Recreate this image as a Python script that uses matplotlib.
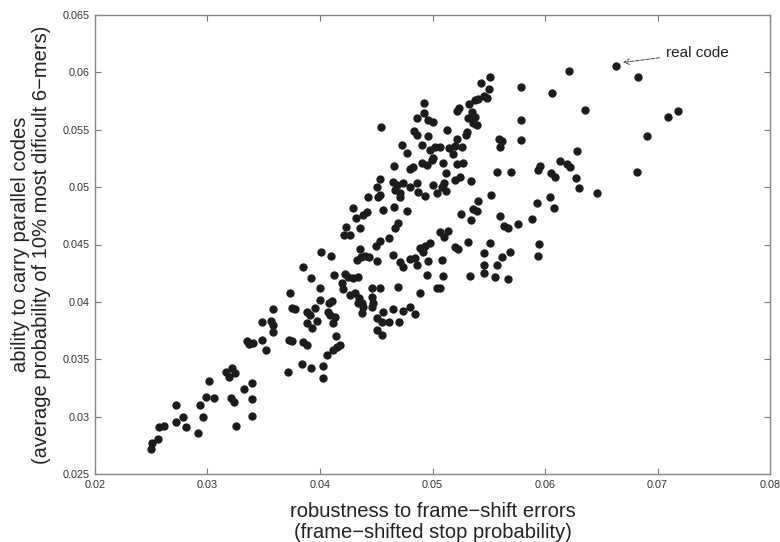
import matplotlib
matplotlib.use("Agg")
import matplotlib.pyplot as plt

# values
stop_prob = [
    0.06214, 0.06632, 0.06827, 0.06356, 0.07094, 0.07183, 0.06907, 0.06285, 0.06134, 0.06196,
    0.06223, 0.06276, 0.06303, 0.06463, 0.06818, 0.06063,
    0.05183, 0.05094, 0.05218, 0.05272, 0.05120, 0.05200, 0.05245, 0.05343, 0.05103, 0.05120,
    0.05085, 0.05574, 0.05698, 0.05520, 0.05405, 0.05360, 0.05396, 0.05254, 0.05343, 0.05600,
    0.05636, 0.05672, 0.05760, 0.05885, 0.05929, 0.06045, 0.06081, 0.05956, 0.05938, 0.06054,
    0.06089, 0.05067, 0.05138, 0.05103, 0.05316, 0.05200, 0.05227, 0.05512, 0.05458, 0.05618,
    0.05689, 0.05574, 0.05458, 0.05458, 0.05947, 0.05938, 0.05085, 0.05334, 0.05556, 0.05672,
    0.05094, 0.05067,
    0.05512, 0.05432, 0.05503, 0.05458, 0.05405, 0.05485, 0.05378, 0.05325, 0.05236, 0.05218,
    0.05352, 0.05316, 0.05378, 0.05360, 0.05396, 0.05307, 0.05298, 0.05129, 0.04925, 0.04925,
    0.04863, 0.04960, 0.05005, 0.04543, 0.04836, 0.04863, 0.04960, 0.04729, 0.04774, 0.04907,
    0.04978, 0.05023, 0.05067, 0.05147, 0.05218, 0.05200, 0.05263, 0.05005, 0.04996, 0.04658,
    0.04800, 0.04907, 0.04951, 0.05592, 0.05618, 0.05600, 0.05787, 0.05787, 0.05787,
    0.04827, 0.04534, 0.04507, 0.04649, 0.04685, 0.04738, 0.04667, 0.04711, 0.04711, 0.04800,
    0.04863, 0.04871, 0.04934, 0.05005, 0.05040, 0.04427, 0.04516, 0.04534, 0.04294, 0.04418,
    0.04383, 0.04320, 0.04560, 0.04658, 0.04774, 0.04694, 0.04667, 0.04231, 0.04356, 0.04214,
    0.04267, 0.04614, 0.04534, 0.04498, 0.04356, 0.04009, 0.04098, 0.04329, 0.04365, 0.04400,
    0.04436, 0.04507, 0.04649, 0.04711, 0.04738, 0.04800, 0.04845, 0.04863, 0.04960, 0.04889,
    0.04934, 0.04978, 0.04916, 0.04951, 0.03849, 0.03920, 0.04125, 0.04223, 0.04249, 0.04294,
    0.04338, 0.04196, 0.04000, 0.04463, 0.04534, 0.04694,
    0.04205, 0.04267, 0.04311, 0.04347, 0.04374, 0.04338, 0.04383, 0.04463, 0.04471, 0.04463,
    0.04374, 0.04889, 0.05040, 0.04000, 0.04107, 0.04080, 0.03956, 0.03885, 0.03911, 0.03974,
    0.04071, 0.04089, 0.04134, 0.04116, 0.03885, 0.03929, 0.04560, 0.04649, 0.04738, 0.04800,
    0.04845, 0.04507, 0.04551, 0.04614, 0.04703, 0.04507, 0.04551, 0.04142, 0.03849, 0.03885,
    0.04178, 0.04151, 0.04116, 0.04062, 0.03840, 0.03920, 0.04027, 0.04027,
    0.03734, 0.03582, 0.03751, 0.03778, 0.03485, 0.03565, 0.03582, 0.03582, 0.03351, 0.03369,
    0.03405, 0.03485, 0.03520, 0.03725, 0.03751, 0.03716, 0.03165, 0.03218, 0.03245, 0.03191,
    0.03013, 0.03325, 0.03396, 0.02987, 0.03058, 0.03209, 0.03236, 0.03396, 0.02720, 0.02933,
    0.02782, 0.02960, 0.03396, 0.02720, 0.02809, 0.02569, 0.02613, 0.02916, 0.03253, 0.02560,
    0.02507, 0.02498,
]
parallel_prob = [
    0.06012, 0.06056, 0.05960, 0.05672, 0.05611, 0.05663, 0.05445, 0.05315, 0.05228, 0.05201,
    0.05175, 0.05079, 0.04992, 0.04949, 0.05132, 0.05820,
    0.05289, 0.05210, 0.05201, 0.05210, 0.05123, 0.05062, 0.05088, 0.05053, 0.05036, 0.04966,
    0.05001, 0.05132, 0.05132, 0.04931, 0.04879, 0.04809, 0.04792, 0.04766, 0.04713, 0.04748,
    0.04661, 0.04644, 0.04679, 0.04722, 0.04862, 0.04914, 0.04818, 0.05184, 0.05149, 0.05123,
    0.05088, 0.04609, 0.04618, 0.04565, 0.04522, 0.04478, 0.04461, 0.04513, 0.04426, 0.04391,
    0.04435, 0.04321, 0.04321, 0.04252, 0.04504, 0.04400, 0.04365, 0.04225, 0.04217, 0.04199,
    0.04225, 0.04121,
    0.05960, 0.05907, 0.05855, 0.05794, 0.05768, 0.05777, 0.05759, 0.05724, 0.05690, 0.05663,
    0.05655, 0.05602, 0.05611, 0.05559, 0.05541, 0.05480, 0.05454, 0.05498, 0.05733, 0.05646,
    0.05602, 0.05585, 0.05567, 0.05524, 0.05489, 0.05454, 0.05445, 0.05367, 0.05297, 0.05367,
    0.05323, 0.05350, 0.05350, 0.05341, 0.05419, 0.05358, 0.05350, 0.05254, 0.05236, 0.05184,
    0.05158, 0.05210, 0.05193, 0.05419, 0.05402, 0.05350, 0.05873, 0.05585, 0.05411,
    0.05175, 0.05071, 0.05001, 0.05045, 0.05018, 0.05036, 0.04975, 0.04949, 0.04914, 0.05001,
    0.05036, 0.04957, 0.04923, 0.05018, 0.04949, 0.04914, 0.04914, 0.04931, 0.04818, 0.04783,
    0.04757, 0.04731, 0.04801, 0.04827, 0.04792, 0.04687, 0.04644, 0.04652, 0.04644, 0.04583,
    0.04583, 0.04557, 0.04530, 0.04487, 0.04461, 0.04435, 0.04400, 0.04365, 0.04391, 0.04400,
    0.04391, 0.04356, 0.04408, 0.04347, 0.04304, 0.04374, 0.04382, 0.04321, 0.04356, 0.04469,
    0.04487, 0.04513, 0.04435, 0.04234, 0.04304, 0.04208, 0.04234, 0.04243, 0.04217, 0.04208,
    0.04217, 0.04164, 0.04121, 0.04121, 0.04121, 0.04130,
    0.04112, 0.04060, 0.04077, 0.04034, 0.03990, 0.03990, 0.03955, 0.04042, 0.03990, 0.03955,
    0.03903, 0.04077, 0.04121, 0.04016, 0.04008, 0.03990, 0.03947, 0.03912, 0.03885, 0.03833,
    0.03912, 0.03885, 0.03868, 0.03816, 0.03816, 0.03772, 0.03912, 0.03938, 0.03920, 0.03955,
    0.03894, 0.03859, 0.03824, 0.03824, 0.03824, 0.03755, 0.03711, 0.03702, 0.03650, 0.03624,
    0.03624, 0.03607, 0.03580, 0.03537, 0.03458, 0.03424, 0.03441, 0.03336,
    0.04077, 0.03938, 0.03947, 0.03938, 0.03824, 0.03833, 0.03798, 0.03737, 0.03659, 0.03633,
    0.03641, 0.03668, 0.03580, 0.03668, 0.03659, 0.03389, 0.03389, 0.03424, 0.03380, 0.03345,
    0.03310, 0.03241, 0.03293, 0.03171, 0.03162, 0.03162, 0.03127, 0.03153, 0.03101, 0.03101,
    0.02997, 0.02997, 0.03005, 0.02953, 0.02909, 0.02909, 0.02918, 0.02857, 0.02918, 0.02805,
    0.02770, 0.02718,
]
real_code = (0.06632, 0.06056)

x_ticks = [0.02, 0.03, 0.04, 0.05, 0.06, 0.07, 0.08]
y_ticks = [0.025, 0.03, 0.035, 0.04, 0.045, 0.05, 0.055, 0.06, 0.065]

plt.rcParams['font.family'] = ['Liberation Sans', 'DejaVu Sans']

fig = plt.figure(figsize=(7.8, 5.42), dpi=100)
ax = fig.add_axes([95 / 780, 68 / 542, 675 / 780, 459 / 542])

ax.scatter(stop_prob, parallel_prob, s=36, color='#1c1c1c', linewidths=0, zorder=3)

ax.set_xlim(0.02, 0.08)
ax.set_ylim(0.025, 0.065)
ax.set_xticks(x_ticks)
ax.set_xticklabels(['0.02', '0.03', '0.04', '0.05', '0.06', '0.07', '0.08'])
ax.set_yticks(y_ticks)
ax.set_yticklabels(['0.025', '0.03', '0.035', '0.04', '0.045', '0.05', '0.055', '0.06', '0.065'])
ax.tick_params(direction='in', length=4, width=0.8, color='#777777', labelsize=7.8,
               labelcolor='#333333', top=True, right=True, pad=4)
for sp in ax.spines.values():
    sp.set_color('#888888')
    sp.set_linewidth(1.0)

ax.set_xlabel('robustness to frame\u2212shift errors\n(frame\u2212shifted stop probability)',
              fontsize=14.5, color='#222222', linespacing=1.15, labelpad=9)
ax.set_ylabel('ability to carry parallel codes\n(average probability of 10% most dificult 6\u2212mers)',
              fontsize=14.5, color='#222222', linespacing=1.15, labelpad=8)

ax.annotate('real code', xy=(real_code[0] + 0.0006, real_code[1] + 0.0003),
            xytext=(0.0708, 0.0617), fontsize=11, color='#222222', va='center', ha='left',
            arrowprops=dict(arrowstyle='->', linestyle='--', lw=0.7, color='#444444',
                            shrinkA=3, shrinkB=0, mutation_scale=10))

fig.savefig('out.png', dpi=100, facecolor='white')
